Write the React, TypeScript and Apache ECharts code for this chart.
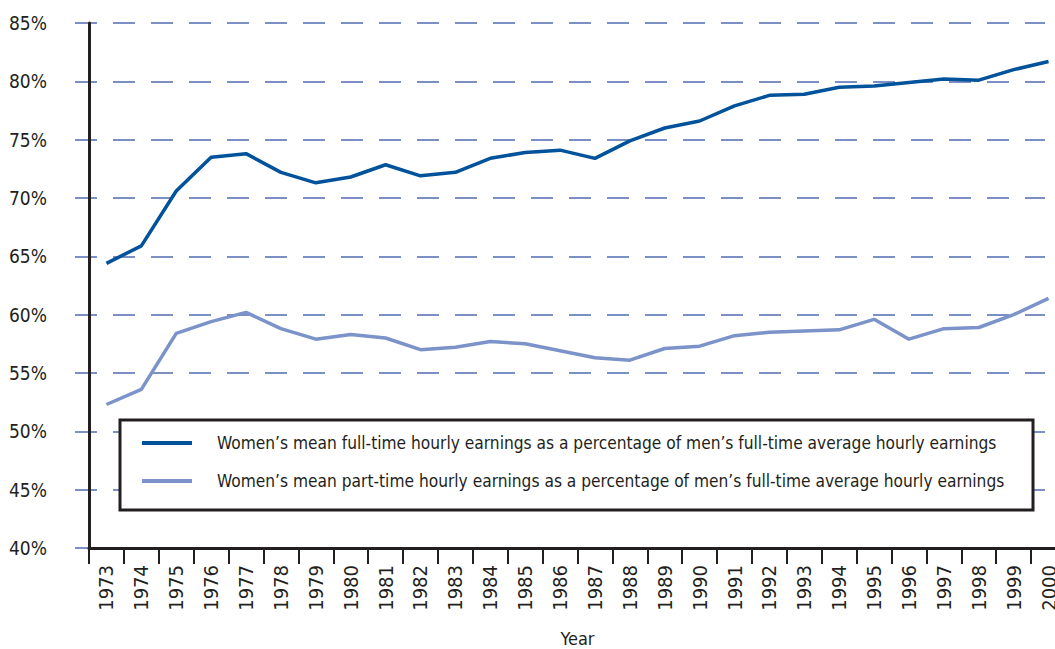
import React, { useEffect, useRef } from "react";
import * as echarts from "echarts";

const years = [
  "1973", "1974", "1975", "1976", "1977", "1978", "1979", "1980", "1981", "1982",
  "1983", "1984", "1985", "1986", "1987", "1988", "1989", "1990", "1991", "1992",
  "1993", "1994", "1995", "1996", "1997", "1998", "1999", "2000",
];

const fullTime = [
  64.4, 65.9, 70.6, 73.5, 73.8, 72.2, 71.3, 71.8, 72.85, 71.9,
  72.2, 73.4, 73.9, 74.1, 73.4, 74.9, 76.0, 76.6, 77.9, 78.8,
  78.9, 79.5, 79.6, 79.9, 80.2, 80.1, 81.0, 81.7,
];

const partTime = [
  52.3, 53.6, 58.4, 59.4, 60.2, 58.8, 57.9, 58.3, 58.0, 57.0,
  57.2, 57.7, 57.5, 56.9, 56.3, 56.1, 57.1, 57.3, 58.2, 58.5,
  58.6, 58.7, 59.6, 57.9, 58.8, 58.9, 60.0, 61.4,
];

const seriesNames = [
  "Women\u2019s mean full-time hourly earnings as a percentage of men\u2019s full-time average hourly earnings",
  "Women\u2019s mean part-time hourly earnings as a percentage of men\u2019s full-time average hourly earnings",
];

const yMin = 40;
const yMax = 85;
const yStep = 5;
const xAxisName = "Year";

const FONT = "'Liberation Sans Narrow', 'DejaVu Sans Condensed', 'Liberation Sans', sans-serif";

export default function App() {
  const ref = useRef<HTMLDivElement>(null);
  useEffect(() => {
    if (!ref.current) return;
    const chart = echarts.init(ref.current, undefined, { renderer: "svg" });
    chart.setOption({
      animation: false,
      backgroundColor: "#ffffff",
      textStyle: { fontFamily: FONT },
      grid: [
        { left: 75, right: 10, top: 23, bottom: 101, containLabel: false, outerBoundsMode: "none" },
        { left: 89, right: -11, top: 23, bottom: 101, containLabel: false, outerBoundsMode: "none" },
      ],
      xAxis: [
        { gridIndex: 0, type: "value", min: 0, max: 1, show: false },
        {
          gridIndex: 1,
          type: "category",
          data: years,
          boundaryGap: true,
          axisLine: { show: true, lineStyle: { color: "#231f20", width: 3 } },
          axisTick: { show: true, length: 16, lineStyle: { color: "#231f20", width: 2 } },
          axisLabel: {
            rotate: 90,
            interval: 0,
            margin: 17,
            fontSize: 20,
            color: "#231f20",
            fontFamily: FONT,
          },
          name: xAxisName,
          nameLocation: "middle",
          nameGap: 81,
          nameTextStyle: { fontSize: 18, color: "#231f20", fontFamily: FONT },
        },
      ],
      yAxis: [
        {
          gridIndex: 0,
          type: "value",
          min: yMin,
          max: yMax,
          interval: yStep,
          axisLine: { show: false },
          axisTick: { show: false },
          axisLabel: { show: false },
          splitLine: {
            show: true,
            lineStyle: { color: "#7b8fc4", width: 2, type: [22, 16] },
          },
        },
        {
          gridIndex: 1,
          type: "value",
          min: yMin,
          max: yMax,
          interval: yStep,
          axisLine: { show: true, lineStyle: { color: "#231f20", width: 3 } },
          axisTick: { show: false },
          splitLine: { show: false },
          axisLabel: {
            formatter: "{value}%",
            margin: 42,
            fontSize: 19,
            color: "#231f20",
            fontFamily: FONT,
          },
        },
      ],
      legend: {
        orient: "vertical",
        left: 142,
        top: 433,
        padding: 0,
        itemGap: 18,
        itemWidth: 50,
        itemHeight: 4,
        icon: "rect",
        z: 20,
        textStyle: {
          fontSize: 17.2,
          lineHeight: 20,
          color: "#231f20",
          fontFamily: FONT,
          padding: [0, 0, 0, 20],
        },
        data: seriesNames,
      },
      graphic: [
        {
          type: "rect",
          z: 10,
          shape: { x: 120, y: 420, width: 913, height: 90 },
          style: { fill: "#ffffff", stroke: "#231f20", lineWidth: 3 },
        },
      ],
      series: [
        {
          name: seriesNames[0],
          type: "line",
          xAxisIndex: 1,
          yAxisIndex: 1,
          data: fullTime,
          symbol: "none",
          color: "#00529b",
          lineStyle: { color: "#00529b", width: 3.5 },
          z: 5,
        },
        {
          name: seriesNames[1],
          type: "line",
          xAxisIndex: 1,
          yAxisIndex: 1,
          data: partTime,
          symbol: "none",
          color: "#7b93c9",
          lineStyle: { color: "#7b93c9", width: 3.5 },
          z: 5,
        },
      ],
    });
    return () => chart.dispose();
  }, []);
  return (
    <div
      ref={ref}
      style={{ position: "absolute", left: 0, top: 0, width: 1055, height: 649 }}
    />
  );
}
